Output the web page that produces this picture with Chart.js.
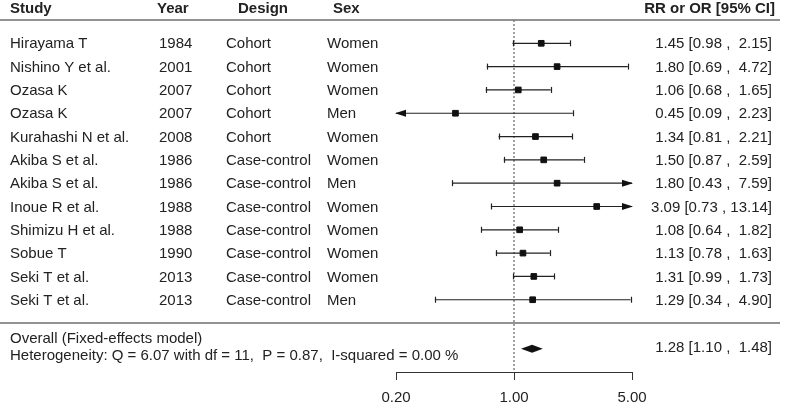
<!DOCTYPE html>
<html>
<head>
<meta charset="utf-8">
<title>Forest plot</title>
<script src="https://cdn.jsdelivr.net/npm/chart.js@4/dist/chart.umd.min.js"></script>
<style>
    html, body { margin: 0; padding: 0; background: #ffffff; overflow: hidden; }
    #wrap { width: 785px; height: 405px; overflow: hidden; }
</style>
</head>
<body>
<div id="wrap"><canvas id="forest" width="785" height="416"></canvas></div>
<script>
    const studies = ["Hirayama T", "Nishino Y et al.", "Ozasa K", "Ozasa K", "Kurahashi N et al.", "Akiba S et al.",
        "Akiba S et al.", "Inoue R et al.", "Shimizu H et al.", "Sobue T", "Seki T et al.", "Seki T et al."];
    const years = [1984, 2001, 2007, 2007, 2008, 1986, 1986, 1988, 1988, 1990, 2013, 2013];
    const designs = ["Cohort", "Cohort", "Cohort", "Cohort", "Cohort", "Case-control", "Case-control",
        "Case-control", "Case-control", "Case-control", "Case-control", "Case-control"];
    const sexes = ["Women", "Women", "Women", "Men", "Women", "Women", "Men", "Women", "Women", "Women", "Women", "Men"];
    const estimates = [1.45, 1.80, 1.06, 0.45, 1.34, 1.50, 1.80, 3.09, 1.08, 1.13, 1.31, 1.29];
    const lowers = [0.98, 0.69, 0.68, 0.09, 0.81, 0.87, 0.43, 0.73, 0.64, 0.78, 0.99, 0.34];
    const uppers = [2.15, 4.72, 1.65, 2.23, 2.21, 2.59, 7.59, 13.14, 1.82, 1.63, 1.73, 4.90];
    const overall = [1.28, 1.10, 1.48]; // estimate, lower, upper
    const heterogeneity = ["6.07", "11", "0.87", "0.00"]; // Q, df, P, I-squared
    const xTicks = [0.20, 1.00, 5.00];
    const headers = ["Study", "Year", "Design", "Sex", "RR or OR [95% CI]"];

    const rows = studies.map((s, i) => i);
    const overallRow = 13.1;
    const yMin = -1;
    const yMax = 14.1;
    const FONT = '"Liberation Sans", Arial, Helvetica, sans-serif';
    const TEXT = '#222222';

    function ciText(e, l, u) {
        return e.toFixed(2) + " [" + l.toFixed(2) + " , " + u.toFixed(2).padStart(5, " ") + "]";
    }

    // caps, arrows and the summary diamond
    const forestMarks = {
        id: 'forestMarks',
        afterDatasetsDraw(chart) {
            const ctx = chart.ctx;
            const x = chart.scales.x;
            const y = chart.scales.y;
            const left = chart.chartArea.left;
            const right = chart.chartArea.right;
            ctx.save();
            ctx.strokeStyle = '#222222';
            ctx.fillStyle = '#111111';
            ctx.lineWidth = 1.2;
            rows.forEach((r, i) => {
                const py = y.getPixelForValue(r);
                const pl = x.getPixelForValue(lowers[i]);
                const pu = x.getPixelForValue(uppers[i]);
                if (pl < left) {
                    ctx.beginPath();
                    ctx.moveTo(left - 1, py);
                    ctx.lineTo(left + 10, py - 3.5);
                    ctx.lineTo(left + 10, py + 3.5);
                    ctx.closePath();
                    ctx.fill();
                } else {
                    ctx.beginPath();
                    ctx.moveTo(Math.round(pl) + 0.5, py - 3);
                    ctx.lineTo(Math.round(pl) + 0.5, py + 3);
                    ctx.stroke();
                }
                if (pu > right) {
                    ctx.beginPath();
                    ctx.moveTo(right + 1, py);
                    ctx.lineTo(right - 10, py - 3.5);
                    ctx.lineTo(right - 10, py + 3.5);
                    ctx.closePath();
                    ctx.fill();
                } else {
                    ctx.beginPath();
                    ctx.moveTo(Math.round(pu) + 0.5, py - 3);
                    ctx.lineTo(Math.round(pu) + 0.5, py + 3);
                    ctx.stroke();
                }
            });
            const oy = y.getPixelForValue(overallRow);
            ctx.beginPath();
            ctx.moveTo(x.getPixelForValue(overall[1]), oy);
            ctx.lineTo(x.getPixelForValue(overall[0]), oy - 4);
            ctx.lineTo(x.getPixelForValue(overall[2]), oy);
            ctx.lineTo(x.getPixelForValue(overall[0]), oy + 4);
            ctx.closePath();
            ctx.fill();
            ctx.restore();
        }
    };

    // table text and separator lines
    const forestText = {
        id: 'forestText',
        afterDraw(chart) {
            const ctx = chart.ctx;
            const y = chart.scales.y;
            ctx.save();
            ctx.fillStyle = TEXT;
            ctx.textBaseline = 'middle';

            ctx.font = 'bold 15px ' + FONT;
            ctx.textAlign = 'left';
            ctx.fillText(headers[0], 10, 9);
            ctx.fillText(headers[1], 157, 9);
            ctx.fillText(headers[2], 238, 9);
            ctx.fillText(headers[3], 333, 9);
            ctx.textAlign = 'right';
            ctx.fillText(headers[4], 775, 9);

            ctx.strokeStyle = '#6e6e6e';
            ctx.lineWidth = 1.5;
            [yMin, 12].forEach(r => {
                const ly = Math.round(y.getPixelForValue(r));
                ctx.beginPath();
                ctx.moveTo(0, ly);
                ctx.lineTo(780, ly);
                ctx.stroke();
            });

            ctx.font = '15px ' + FONT;
            rows.forEach((r, i) => {
                const py = y.getPixelForValue(r) + 1;
                ctx.textAlign = 'left';
                ctx.fillText(studies[i], 10, py);
                ctx.fillText(String(years[i]), 159, py);
                ctx.fillText(designs[i], 226, py);
                ctx.fillText(sexes[i], 327, py);
                ctx.textAlign = 'right';
                ctx.fillText(ciText(estimates[i], lowers[i], uppers[i]), 772, py);
            });

            const oy = y.getPixelForValue(overallRow);
            ctx.textAlign = 'left';
            ctx.fillText("Overall (Fixed-effects model)", 10, oy - 10);
            ctx.fillText("Heterogeneity: Q = " + heterogeneity[0] + " with df = " + heterogeneity[1] +
                ",  P = " + heterogeneity[2] + ",  I-squared = " + heterogeneity[3] + " %", 10, oy + 7);
            ctx.textAlign = 'right';
            ctx.fillText(ciText(overall[0], overall[1], overall[2]), 772, oy - 1);
            ctx.restore();
        }
    };

    const ciSets = rows.map((r, i) => ({
        type: 'line',
        data: [{x: lowers[i], y: r}, {x: uppers[i], y: r}],
        borderColor: '#222222',
        borderWidth: 1.2,
        pointRadius: 0,
        order: 2
    }));

    new Chart(document.getElementById('forest'), {
        type: 'scatter',
        data: {
            datasets: [
                {
                    type: 'line',
                    data: [{x: 1, y: yMin}, {x: 1, y: yMax}],
                    borderColor: '#444444',
                    borderWidth: 1,
                    borderDash: [2, 2],
                    pointRadius: 0,
                    order: 3
                },
                ...ciSets,
                {
                    data: rows.map((r, i) => ({x: estimates[i], y: r})),
                    pointStyle: 'rect',
                    pointRadius: 4,
                    pointBorderWidth: 1,
                    backgroundColor: '#111111',
                    borderColor: '#111111',
                    order: 1
                }
            ]
        },
        options: {
            responsive: false,
            animation: false,
            layout: {
                padding: {left: 396, right: 153, top: 20, bottom: 0}
            },
            plugins: {
                legend: {display: false},
                tooltip: {enabled: false}
            },
            scales: {
                x: {
                    type: 'logarithmic',
                    min: 0.2,
                    max: 5,
                    afterBuildTicks: (scale) => {
                        scale.ticks = xTicks.map(v => ({value: v}));
                    },
                    ticks: {
                        callback: (v) => Number(v).toFixed(2),
                        font: {size: 15, family: FONT},
                        color: TEXT,
                        padding: 9,
                        maxRotation: 0,
                        autoSkip: false
                    },
                    grid: {
                        drawOnChartArea: false,
                        tickLength: 8,
                        color: '#333333'
                    },
                    border: {display: true, color: '#333333', width: 1}
                },
                y: {
                    type: 'linear',
                    display: false,
                    reverse: true,
                    min: yMin,
                    max: yMax
                }
            }
        },
        plugins: [forestMarks, forestText]
    });
</script>
</body>
</html>
